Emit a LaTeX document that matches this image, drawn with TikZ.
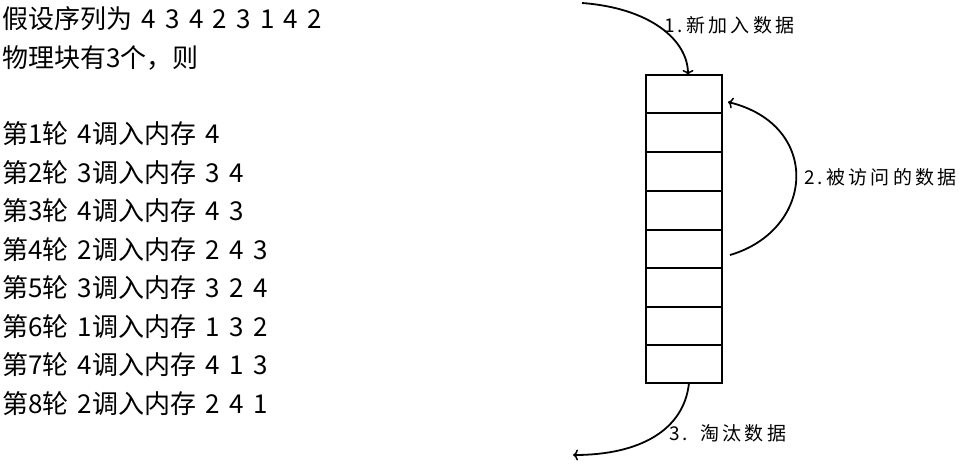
\documentclass[tikz,border=0pt]{standalone}
\usepackage{fontspec}
\setmainfont[WordSpace=1.6]{Noto Sans CJK SC}
\newfontfamily\lblfont[LetterSpace=17,WordSpace=1.3]{Noto Sans CJK SC}
\usetikzlibrary{arrows.meta}
\begin{document}
\begin{tikzpicture}[x=1pt,y=-1pt,
  txt/.style={anchor=base west,inner sep=0pt,font=\fontsize{26}{26}\selectfont},
  lbl/.style={anchor=west,inner sep=0pt,font=\lblfont\fontsize{19}{19}\selectfont},
  column/.style={draw,line width=2pt,minimum width=76pt,minimum height=308pt,inner sep=0pt,outer sep=0pt},
  divider/.style={line width=2pt},
  arr/.style={line width=1.8pt,-{To[length=5pt,width=11pt,line width=1.5pt]}}]
\useasboundingbox (0,0) rectangle (966,471);
\node[txt] (t1) at (2,28) {假设序列为 4 3 4 2 3 1 4 2};
\node[txt] (t2) at (2,67) {物理块有3个，则};
\node[txt] (r1) at (2,143.5) {第1轮 4调入内存 4};
\node[txt] (r2) at (2,182) {第2轮 3调入内存 3 4};
\node[txt] (r3) at (2,220.5) {第3轮 4调入内存 4 3};
\node[txt] (r4) at (2,259) {第4轮 2调入内存 2 4 3};
\node[txt] (r5) at (2,297.5) {第5轮 3调入内存 3 2 4};
\node[txt] (r6) at (2,336) {第6轮 1调入内存 1 3 2};
\node[txt] (r7) at (2,374.5) {第7轮 4调入内存 4 1 3};
\node[txt] (r8) at (2,413) {第8轮 2调入内存 2 4 1};
\node[column] (col) at (684,229) {};
\foreach \y in {113,152,191,230,268,307,345}{
  \draw[divider] (col.west |- 0,\y) -- (col.east |- 0,\y);
}
\coordinate (s1) at (582,3);
\coordinate (s3) at (573,455);
\draw[arr] (s1) .. controls (650,8) and (688,40) .. (col.north -| 688,0);
\draw[arr] (730,255) .. controls (815,230) and (822,125) .. (728,102);
\draw[arr] (col.south -| 689,0) .. controls (684,430) and (640,455) .. (s3);
\node[lbl] (l1) at (664,25) {1.新加入数据};
\node[lbl] (l2) at (804,177) {2.被访问的数据};
\node[lbl] (l3) at (669,433) {3. 淘汰数据};
\end{tikzpicture}
\end{document}
